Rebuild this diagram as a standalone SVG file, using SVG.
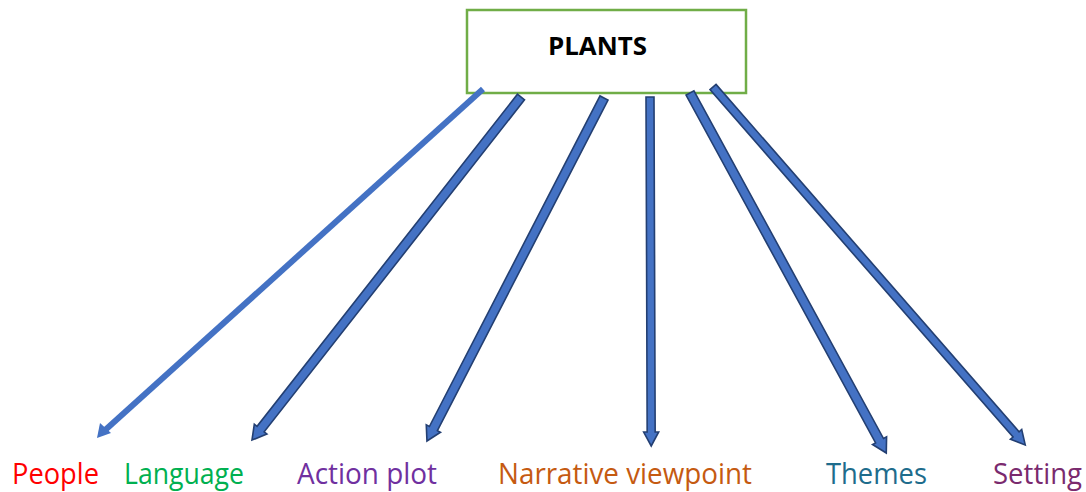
<svg xmlns="http://www.w3.org/2000/svg" width="1086" height="492" viewBox="0 0 1086 492">
<style>
.lbl{font-family:"Open Sans","Liberation Sans",sans-serif;font-size:29px}
.blk{fill:#4472C4;stroke:#233F72;stroke-width:1.6;stroke-linejoin:miter}
</style>
<rect width="1086" height="492" fill="#fff"/>
<g id="plants">
<rect x="467" y="10" width="279" height="83" fill="#fff" stroke="#70AD47" stroke-width="2.5"/>
<text x="548" y="55" font-family="'Open Sans','Liberation Sans',sans-serif" font-size="25" font-weight="bold" fill="#000" textLength="99" lengthAdjust="spacingAndGlyphs">PLANTS</text>
</g>
<g id="connectors">
<path d="M483,89 L103,432" stroke="#4472C4" stroke-width="6" fill="none"/>
<path d="M97,438 L100,423 L111,433 Z" fill="#4472C4"/>
<path class="blk" d="M0,-4.5 H422 V-8 L436,0 L422,8 V4.5 H0 Z" transform="translate(521,97) rotate(128.1)"/>
<path class="blk" d="M0,-4.5 H372 V-8 L386,0 L372,8 V4.5 H0 Z" transform="translate(604,98) rotate(117.3)"/>
<path class="blk" d="M0,-4 H335 V-7.5 L349,0 L335,7.5 V4 H0 Z" transform="translate(650,97) rotate(89.8)"/>
<path class="blk" d="M0,-4.5 H396 V-8 L410,0 L396,8 V4.5 H0 Z" transform="translate(690,93) rotate(61.4)"/>
<path class="blk" d="M0,-4 H461 V-7.5 L475,0 L461,7.5 V4 H0 Z" transform="translate(713,87) rotate(48.9)"/>
</g>
<g id="people"><text class="lbl" x="12" y="484" fill="#FF0000" textLength="87" lengthAdjust="spacingAndGlyphs">People</text></g>
<g id="language"><text class="lbl" x="124" y="484" fill="#00B050" textLength="120" lengthAdjust="spacingAndGlyphs">Language</text></g>
<g id="action-plot"><text class="lbl" x="297" y="484" fill="#7030A0" textLength="140" lengthAdjust="spacingAndGlyphs">Action plot</text></g>
<g id="narrative-viewpoint"><text class="lbl" x="498" y="484" fill="#C55A11" textLength="254" lengthAdjust="spacingAndGlyphs">Narrative viewpoint</text></g>
<g id="themes"><text class="lbl" x="826" y="484" fill="#1E6C8C" textLength="101" lengthAdjust="spacingAndGlyphs">Themes</text></g>
<g id="setting"><text class="lbl" x="993" y="484" fill="#7A2A6E" textLength="89" lengthAdjust="spacingAndGlyphs">Setting</text></g>
</svg>
